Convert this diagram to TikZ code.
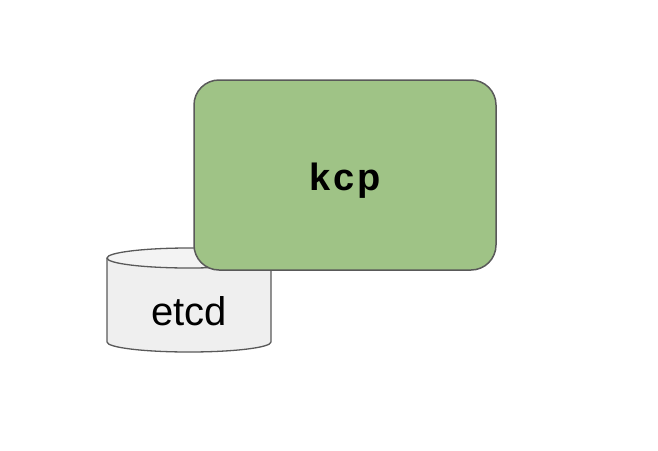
\documentclass[tikz,border=0pt]{standalone}
\usepackage{fontspec}
\setmainfont{Liberation Sans}
\definecolor{kcpgreen}{HTML}{9FC386}
\definecolor{edgegray}{HTML}{595959}
\definecolor{dbgray}{HTML}{EFEFEF}
\definecolor{dbtop}{HTML}{F3F3F3}
\tikzset{
  kcpbox/.style={draw=edgegray,line width=1.5pt,fill=kcpgreen,rounded corners=25pt,
    minimum width=302pt,minimum height=190pt,inner sep=0pt,text height=30pt,text depth=0pt,
    font=\fontsize{38}{44}\selectfont\bfseries\addfontfeature{LetterSpace=8}},
  dbtext/.style={inner sep=0pt,font=\fontsize{40}{46}\selectfont}
}
\begin{document}
\begin{tikzpicture}[x=1pt,y=-1pt]
    \useasboundingbox (0,0) rectangle (658,450);
    % etcd cylinder
    \filldraw[draw=edgegray,line width=1.3pt,fill=dbgray]
      (107,258) -- (107,342) arc[start angle=180,end angle=360,x radius=82,y radius=-10]
      -- (271,258);
    \filldraw[draw=edgegray,line width=1.3pt,fill=dbtop] (189,258) ellipse[x radius=82,y radius=10];
    \node[dbtext] (etcd) at (189,311) {etcd};
    % kcp
    \node[kcpbox] (kcp) at (345,175) {kcp};
\end{tikzpicture}
\end{document}
